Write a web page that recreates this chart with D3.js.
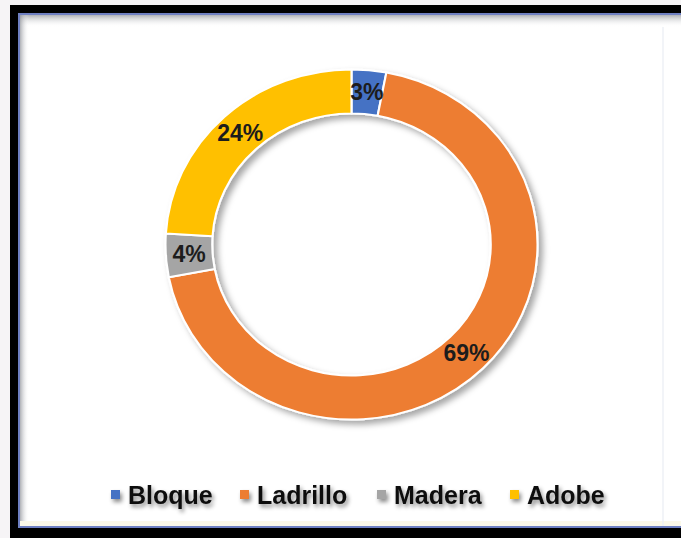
<!DOCTYPE html>
<html>
<head>
<meta charset="utf-8">
<script src="https://cdn.jsdelivr.net/npm/d3@7"></script>
<style>
  html, body { margin: 0; padding: 0; background: #f6f4f6; }
  svg { display: block; }
</style>
</head>
<body>
<svg id="chart" width="681" height="538"></svg>
<script>
// Building material shares
const categories = ["Bloque", "Ladrillo", "Madera", "Adobe"];
const values = [3, 69, 4, 24];
const labels = ["3%", "69%", "4%", "24%"];
const colors = ["#4472C4", "#ED7D31", "#A5A5A5", "#FFC000"];

const W = 681, H = 538;
const svg = d3.select("#chart");
const defs = svg.append("defs");

// soft drop shadow for the ring
const ringShadow = defs.append("filter").attr("id", "ringShadow")
  .attr("x", "-20%").attr("y", "-20%").attr("width", "140%").attr("height", "140%");
ringShadow.append("feDropShadow")
  .attr("dx", 4).attr("dy", 4).attr("stdDeviation", 3)
  .attr("flood-color", "#000").attr("flood-opacity", 0.35);

// text shadow for the legend
const textShadow = defs.append("filter").attr("id", "textShadow")
  .attr("x", "-20%").attr("y", "-40%").attr("width", "140%").attr("height", "180%");
textShadow.append("feDropShadow")
  .attr("dx", 2).attr("dy", 3).attr("stdDeviation", 2)
  .attr("flood-color", "#000").attr("flood-opacity", 0.45);

// inner shade along the top/left edges of the panel
const shadeTop = defs.append("linearGradient").attr("id", "shadeTop")
  .attr("x1", 0).attr("y1", 0).attr("x2", 0).attr("y2", 1);
shadeTop.append("stop").attr("offset", 0).attr("stop-color", "#8c8f96").attr("stop-opacity", 0.7);
shadeTop.append("stop").attr("offset", 1).attr("stop-color", "#ffffff").attr("stop-opacity", 0);
const shadeLeft = defs.append("linearGradient").attr("id", "shadeLeft")
  .attr("x1", 0).attr("y1", 0).attr("x2", 1).attr("y2", 0);
shadeLeft.append("stop").attr("offset", 0).attr("stop-color", "#8c8f96").attr("stop-opacity", 0.7);
shadeLeft.append("stop").attr("offset", 1).attr("stop-color", "#ffffff").attr("stop-opacity", 0);

// panel frame: black band, blue rule, white face
svg.append("rect").attr("x", 10).attr("y", 5).attr("width", W - 10).attr("height", H - 5).attr("fill", "#000");
svg.append("rect").attr("x", 18).attr("y", 13).attr("width", W - 18).attr("height", 515).attr("fill", "#6f80c2");
svg.append("rect").attr("x", 20).attr("y", 15).attr("width", W - 20).attr("height", 511).attr("fill", "#ffffff");
svg.append("rect").attr("x", 20).attr("y", 15).attr("width", W - 20).attr("height", 12).attr("fill", "url(#shadeTop)");
svg.append("rect").attr("x", 20).attr("y", 15).attr("width", 9).attr("height", 511).attr("fill", "url(#shadeLeft)");
svg.append("rect").attr("x", 20).attr("y", 521).attr("width", W - 20).attr("height", 5).attr("fill", "#fbf8e8");
svg.append("line").attr("x1", 663).attr("x2", 663).attr("y1", 27).attr("y2", 526)
  .attr("stroke", "#eef0f6").attr("stroke-width", 1.5);

// doughnut
const cx = 351.5, cy = 244.5, outerR = 175, innerR = 131, sx = 1.063;
const pie = d3.pie().sort(null).value(d => d)(values);
const arc = d3.arc().innerRadius(innerR).outerRadius(outerR);

const ring = svg.append("g")
  .attr("transform", `translate(${cx},${cy}) scale(${sx},1)`)
  .attr("filter", "url(#ringShadow)");
ring.selectAll("path")
  .data(pie)
  .join("path")
  .attr("d", arc)
  .attr("fill", (d, i) => colors[i])
  .attr("stroke", "#ffffff")
  .attr("stroke-width", 2)
  .attr("stroke-linejoin", "round");

// value labels at slice centroids
svg.append("g")
  .selectAll("text")
  .data(pie)
  .join("text")
  .attr("x", d => cx + arc.centroid(d)[0] * sx)
  .attr("y", d => cy + arc.centroid(d)[1])
  .attr("text-anchor", "middle")
  .attr("dominant-baseline", "central")
  .attr("font-family", "Liberation Sans, Arial, sans-serif")
  .attr("font-weight", "bold")
  .attr("font-size", 23)
  .attr("fill", "#1c1c1c")
  .text((d, i) => labels[i]);

// legend
const legendX = [111, 240, 377, 510];
const legend = svg.append("g").attr("filter", "url(#textShadow)");
const item = legend.selectAll("g")
  .data(categories)
  .join("g")
  .attr("transform", (d, i) => `translate(${legendX[i]},495)`);
item.append("rect")
  .attr("x", 0).attr("y", -5).attr("width", 9).attr("height", 9)
  .attr("fill", (d, i) => colors[i]);
item.append("text")
  .attr("x", 17).attr("y", 0)
  .attr("dominant-baseline", "central")
  .attr("font-family", "Liberation Sans, Arial, sans-serif")
  .attr("font-weight", "bold")
  .attr("font-size", 25)
  .attr("fill", "#111")
  .text(d => d);
</script>
</body>
</html>
